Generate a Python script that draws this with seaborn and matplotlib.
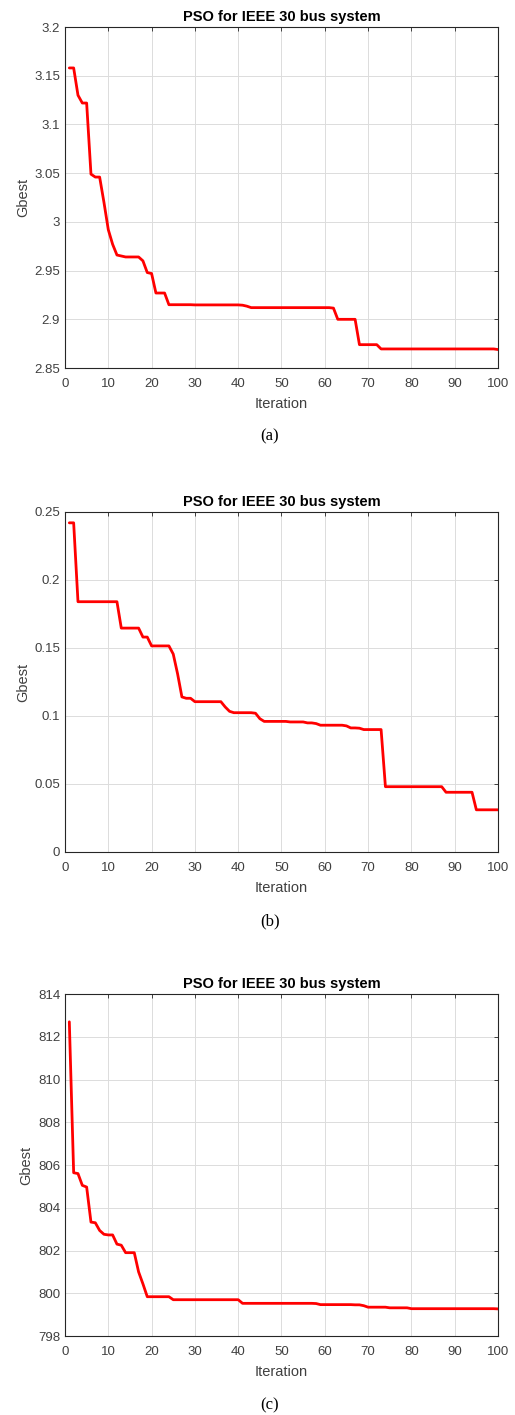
import numpy as np
import pandas as pd
import matplotlib
matplotlib.use("Agg")
import matplotlib.pyplot as plt
import seaborn as sns
from matplotlib.ticker import FuncFormatter, MultipleLocator

# Convergence history of the global best over 100 PSO iterations
iterations = list(range(1, 101))

gbest_a_pts = {
    1: 3.158, 2: 3.158, 3: 3.130, 4: 3.122, 5: 3.122, 6: 3.049, 7: 3.046, 8: 3.046,
    9: 3.020, 10: 2.992, 11: 2.977, 12: 2.966, 13: 2.965, 14: 2.964, 15: 2.964,
    16: 2.964, 17: 2.964, 18: 2.960, 19: 2.948, 20: 2.947, 21: 2.927, 22: 2.927,
    23: 2.927, 24: 2.915, 30: 2.9148, 41: 2.9145, 42: 2.9135, 43: 2.912,
    62: 2.9115, 63: 2.900, 67: 2.900, 68: 2.874, 72: 2.874, 73: 2.8696, 100: 2.869,
}
gbest_b_pts = {
    1: 0.242, 2: 0.242, 3: 0.184, 12: 0.184, 13: 0.1646, 17: 0.1646, 18: 0.158,
    19: 0.158, 20: 0.1515, 24: 0.1515, 25: 0.1455, 26: 0.131, 27: 0.114, 28: 0.113,
    29: 0.113, 30: 0.1105, 36: 0.1105, 37: 0.1066, 38: 0.1034, 39: 0.1024,
    44: 0.102, 45: 0.098, 46: 0.096, 51: 0.096, 52: 0.0956, 55: 0.0956,
    56: 0.0949, 58: 0.0944, 59: 0.0932, 65: 0.0927, 66: 0.0912, 68: 0.0910,
    69: 0.0900, 73: 0.0900, 74: 0.048, 87: 0.048, 88: 0.0439, 94: 0.0439,
    95: 0.031, 100: 0.031,
}
gbest_c_pts = {
    1: 812.7, 2: 805.64, 3: 805.6, 4: 805.05, 5: 804.97, 6: 803.33, 7: 803.3,
    8: 802.94, 9: 802.76, 10: 802.73, 11: 802.73, 12: 802.3, 13: 802.25,
    14: 801.9, 16: 801.9, 17: 801.0, 18: 800.44, 19: 799.84, 24: 799.84,
    25: 799.70, 40: 799.70, 41: 799.53, 58: 799.52, 59: 799.47, 67: 799.46,
    69: 799.42, 70: 799.35, 75: 799.32, 80: 799.28, 100: 799.27,
}


def expand(points):
    """Hold each recorded value until the next recorded iteration."""
    keys = sorted(points)
    out = []
    for it in iterations:
        k = max(k for k in keys if k <= it)
        out.append(points[k])
    return out


gbest_a = expand(gbest_a_pts)
gbest_b = expand(gbest_b_pts)
gbest_c = expand(gbest_c_pts)

panels = [
    ("(a)", gbest_a, (2.85, 3.2), 0.05, [0.1262, 0.7399, 0.8408, 0.2410], 436),
    ("(b)", gbest_b, (0.0, 0.25), 0.05, [0.1262, 0.3979, 0.8408, 0.2403], 921),
    ("(c)", gbest_c, (798, 814), 2, [0.1262, 0.0558, 0.8408, 0.2417], 1405),
]

sns.set_style("white")
plt.rcParams["font.family"] = ["Liberation Sans", "DejaVu Sans"]

W, H = 515, 1415
fig = plt.figure(figsize=(W / 100, H / 100), dpi=100)
fig.patch.set_facecolor("white")

dark = "#262626"
fmt = FuncFormatter(lambda v, p: f"{v:g}")

for caption, values, ylim, ystep, rect, cap_y in panels:
    ax = fig.add_axes(rect)
    df = pd.DataFrame({"Iteration": iterations, "Gbest": values})
    sns.lineplot(data=df, x="Iteration", y="Gbest", ax=ax, color="#ff0000",
                 linewidth=2.0, zorder=3)
    ax.set_xlim(0, 100)
    ax.set_ylim(*ylim)
    ax.xaxis.set_major_locator(MultipleLocator(10))
    ax.yaxis.set_major_locator(MultipleLocator(ystep))
    ax.yaxis.set_major_formatter(fmt)
    ax.xaxis.set_major_formatter(fmt)
    ax.grid(True, color="#dcdcdc", linewidth=0.7)
    ax.tick_params(direction="in", length=3, width=0.6, colors=dark,
                   labelsize=9.5, top=True, right=True, labelcolor="#404040")
    ax.tick_params(axis="x", pad=7)
    ax.tick_params(axis="y", pad=3.5)
    for s in ax.spines.values():
        s.set_color(dark)
        s.set_linewidth(0.8)
    ax.set_xlabel("Iteration", fontsize=10.5, color="#404040", labelpad=5)
    ax.set_ylabel("Gbest", fontsize=10.5, color="#404040", labelpad=3)
    ax.set_title("PSO for IEEE 30 bus system", fontsize=10.5, fontweight="bold",
                 color="black", pad=4)
    fig.text(270 / W, 1 - cap_y / H, caption, ha="center", va="center",
             fontsize=12, family="Liberation Serif", color="black")

fig.savefig("out.png", dpi=100, facecolor="white")
